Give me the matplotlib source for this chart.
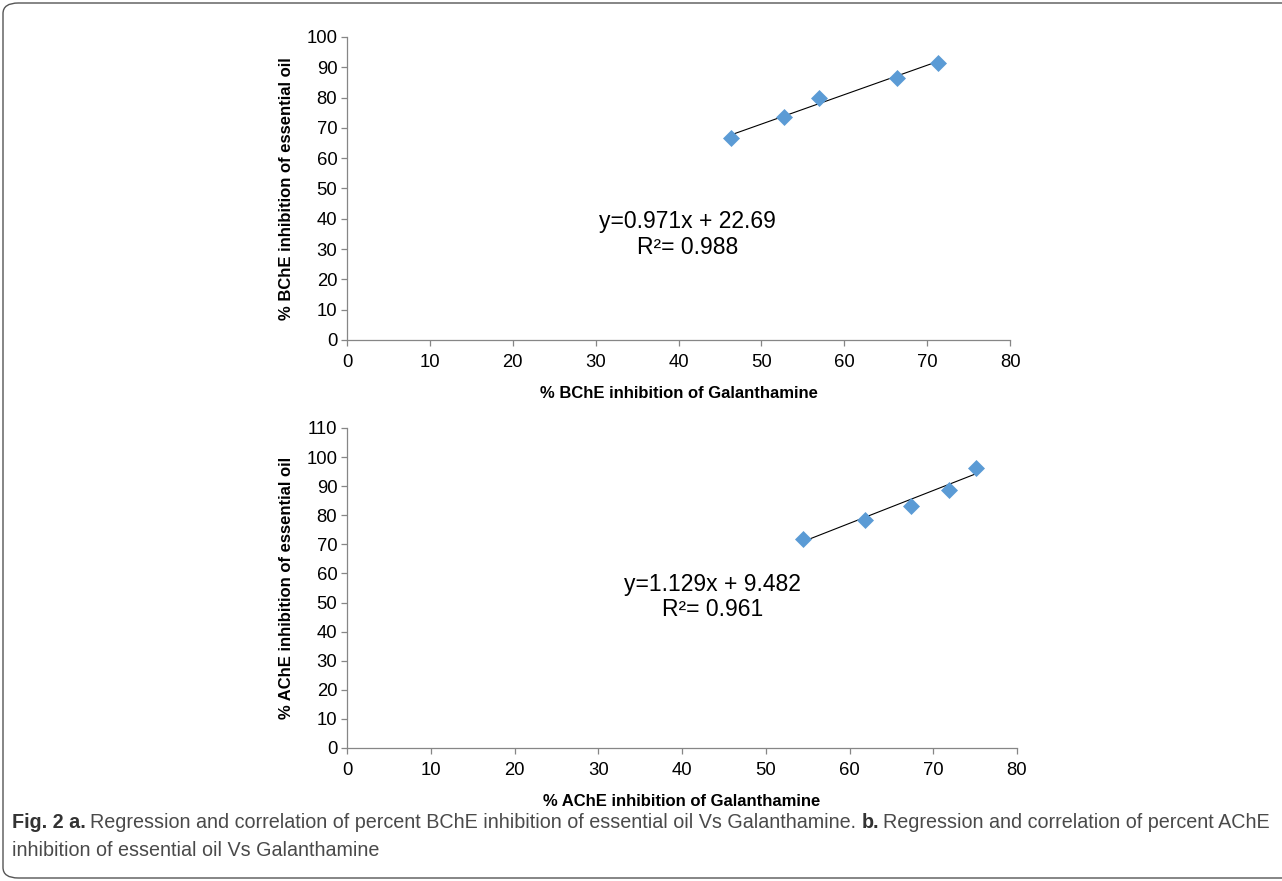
import numpy as np
import matplotlib.pyplot as plt
from matplotlib.patches import FancyBboxPatch

plt.rcParams['font.family'] = ['Liberation Sans', 'DejaVu Sans']

# ---------------------------------------------------------------------------
# Data
# ---------------------------------------------------------------------------

bche_galanthamine = [46.3, 52.7, 56.9, 66.3, 71.3]
bche_oil = [66.8, 73.5, 79.9, 86.6, 91.5]
bche_fit = (0.971, 22.69)
bche_eq = "y=0.971x + 22.69"
bche_r2 = "R\u00b2= 0.988"

ache_galanthamine = [54.4, 61.8, 67.4, 71.9, 75.1]
ache_oil = [71.8, 78.4, 83.3, 88.7, 96.4]
ache_fit = (1.129, 9.482)
ache_eq = "y=1.129x + 9.482"
ache_r2 = "R\u00b2= 0.961"

x_ticks = list(range(0, 81, 10))
bche_y_ticks = list(range(0, 101, 10))
ache_y_ticks = list(range(0, 111, 10))

caption_line1 = "Regression and correlation of percent BChE inhibition of essential oil Vs Galanthamine. "
caption_line1b = "Regression and correlation of percent AChE"
caption_line2 = "inhibition of essential oil Vs Galanthamine"

MARKER_COLOR = "#5B9BD5"
SPINE_COLOR = "#868686"


def draw_panel(ax, xs, ys, fit, eq, r2, yticks, xlabel, ylabel, eq_pos):
    slope, intercept = fit
    xl = np.array([min(xs), max(xs)])
    ax.plot(xl, slope * xl + intercept, color="black", linewidth=0.8, zorder=2)
    ax.scatter(xs, ys, marker="D", s=75, color=MARKER_COLOR, linewidths=0, zorder=3)

    ax.set_xlim(0, 80)
    ax.set_ylim(yticks[0], yticks[-1])
    ax.set_xticks(x_ticks)
    ax.set_yticks(yticks)
    for side in ("top", "right"):
        ax.spines[side].set_visible(False)
    for side in ("left", "bottom"):
        ax.spines[side].set_color(SPINE_COLOR)
        ax.spines[side].set_linewidth(0.9)
    ax.tick_params(direction="out", length=4, width=0.9, color=SPINE_COLOR,
                   labelsize=13.3, pad=3)
    ax.tick_params(axis="x", pad=6)
    ax.set_xlabel(xlabel, fontsize=12, fontweight="bold", labelpad=11)
    ax.set_ylabel(ylabel, fontsize=12, fontweight="bold", labelpad=9)

    ax.text(eq_pos[0], eq_pos[1], eq + "\n" + r2, ha="center", va="center",
            fontsize=16.5, linespacing=1.15)


fig = plt.figure(figsize=(12.82, 8.81), dpi=100)

ax1 = fig.add_axes([0.2707, 0.6141, 0.5172, 0.344])
draw_panel(ax1, bche_galanthamine, bche_oil, bche_fit, bche_eq, bche_r2,
           bche_y_ticks, "% BChE inhibition of Galanthamine",
           "% BChE inhibition of essential oil", (41.1, 34.8))

ax2 = fig.add_axes([0.2707, 0.1510, 0.5226, 0.3632])
draw_panel(ax2, ache_galanthamine, ache_oil, ache_fit, ache_eq, ache_r2,
           ache_y_ticks, "% AChE inhibition of Galanthamine",
           "% AChE inhibition of essential oil", (43.6, 51.9))

# caption
cap_font = ['Liberation Sans', 'DejaVu Sans']
cap_size = 14.2
t = fig.text(12 / 1282, 1 - 822 / 881, "Fig. 2 a.", fontsize=cap_size, fontweight="bold",
             color="#333333", family=cap_font, va="center")
fig.canvas.draw()
r = fig.canvas.get_renderer()
bb = t.get_window_extent(r)
t2 = fig.text(bb.x1 / 1282 + 4 / 1282, 1 - 822 / 881, caption_line1, fontsize=cap_size,
              color="#4a4a4a", family=cap_font, va="center")
bb2 = t2.get_window_extent(r)
t3 = fig.text(bb2.x1 / 1282, 1 - 822 / 881, "b.", fontsize=cap_size, fontweight="bold",
              color="#333333", family=cap_font, va="center")
bb3 = t3.get_window_extent(r)
fig.text(bb3.x1 / 1282 + 4 / 1282, 1 - 822 / 881, caption_line1b, fontsize=cap_size,
         color="#4a4a4a", family=cap_font, va="center")
fig.text(12 / 1282, 1 - 851 / 881, caption_line2, fontsize=cap_size,
         color="#4a4a4a", family=cap_font, va="center")

# rounded frame
frame = FancyBboxPatch((3 / 1282, 3 / 881), 1.05, 1 - 6 / 881,
                       boxstyle="round,pad=0,rounding_size=0.012",
                       transform=fig.transFigure, fill=False,
                       edgecolor="#555555", linewidth=1.0, clip_on=False)
fig.patches.append(frame)

fig.savefig("out.png", dpi=100)
